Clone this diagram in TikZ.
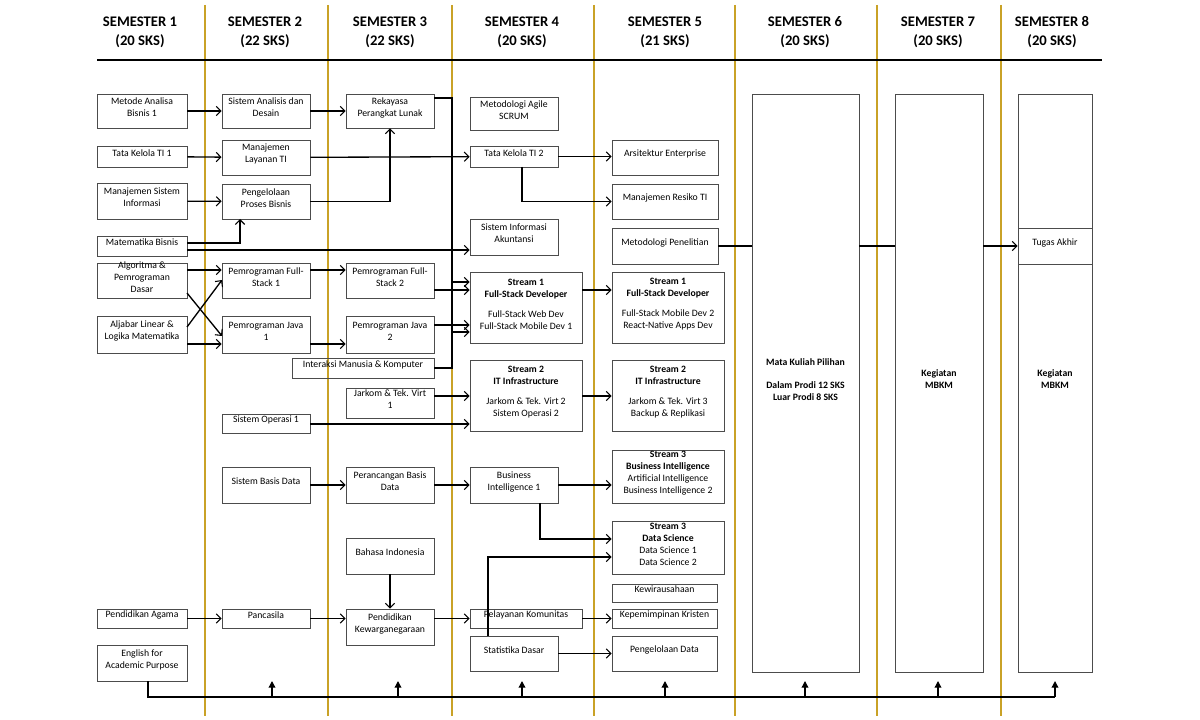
\documentclass[tikz,border=0pt]{standalone}
\usepackage{fontspec}
\setmainfont{Carlito}
\usetikzlibrary{fit,arrows.meta}
\definecolor{gold}{HTML}{C9A227}
\tikzset{
 box/.style={draw=black!70, line width=0.6pt, inner sep=0pt, align=center, font=\fontsize{7.3}{9}\selectfont},
 conn/.style={line width=1pt, -{Straight Barb[length=3.5pt,width=7pt,line width=0.8pt]}},
 plain/.style={line width=1pt},
 stub/.style={line width=1pt, -{Triangle[length=5pt,width=5pt]}},
 hdr/.style={font=\fontsize{11}{14}\selectfont\bfseries, align=center},
}
\newcommand{\bx}[6]{\node[box, fit={(#2,#3) (#4,#5)}] (#1) {#6};}
\begin{document}
\begin{tikzpicture}[x=0.75pt,y=-0.75pt]
\useasboundingbox (0,0) rectangle (1200,720);
% gold lines
\foreach \x in {205,328,452,594,735,877,1001} \draw[gold, line width=1.5pt] (\x,5) -- (\x,716);
\draw[line width=2.2pt] (97,60) -- (1102,60);
% headers
\foreach \x/\n/\s in {140/1/20,265/2/22,390/3/22,522/4/20,665/5/21,805/6/20,938/7/20,1052/8/20}
  \node[hdr] (h\n) at (\x,32) {SEMESTER \n\\(\s{} SKS)};
% Sem1
\bx{mab}{97}{94}{187}{128}{Metode Analisa\\Bisnis 1}
\bx{tk1}{97}{146}{187}{167}{Tata Kelola TI 1}
\bx{msi}{97}{183}{187}{219}{Manajemen Sistem\\Informasi}
\bx{matb}{97}{236}{187}{256}{Matematika Bisnis}
\bx{algo}{97}{263}{187}{298}{Algoritma \&\\Pemrograman\\Dasar}
\bx{alj}{97}{316}{187}{353}{Aljabar Linear \&\\Logika Matematika}
\bx{agama}{97}{609}{187}{628}{Pendidikan Agama}
\bx{eap}{97}{645}{187}{681}{English for\\Academic Purpose}
% Sem2
\bx{sad}{222}{94}{310}{128}{Sistem Analisis dan\\Desain}
\bx{mlti}{222}{140}{310}{175}{Manajemen\\Layanan TI}
\bx{ppb}{222}{184}{310}{219}{Pengelolaan\\Proses Bisnis}
\bx{pfs1}{222}{263}{310}{298}{Pemrograman Full-\\Stack 1}
\bx{pj1}{222}{316}{310}{353}{Pemrograman Java\\1}
\bx{so1}{222}{414}{310}{433}{Sistem Operasi 1}
\bx{sbd}{222}{467}{310}{503}{Sistem Basis Data}
\bx{panc}{222}{609}{310}{628}{Pancasila}
% Sem3
\bx{rpl}{346}{94}{434}{128}{Rekayasa\\Perangkat Lunak}
\bx{pfs2}{346}{263}{434}{298}{Pemrograman Full-\\Stack 2}
\bx{pj2}{346}{316}{434}{353}{Pemrograman Java\\2}
\bx{imk}{292}{358}{434}{378}{Interaksi Manusia \& Komputer}
\bx{jk1}{346}{388}{434}{418}{Jarkom \& Tek. Virt\\1}
\bx{pbd}{346}{467}{434}{503}{Perancangan Basis\\Data}
\bx{bind}{346}{538}{434}{574}{Bahasa Indonesia}
\bx{pkw}{346}{609}{434}{645}{Pendidikan\\Kewarganegaraan}
% Sem4
\bx{agile}{470}{97}{558}{130}{Metodologi Agile\\SCRUM}
\bx{tk2}{470}{146}{558}{167}{Tata Kelola TI 2}
\bx{sia}{470}{219}{558}{255}{Sistem Informasi\\Akuntansi}
\bx{sa1}{470}{272}{582}{343}{\textbf{Stream 1}\\\textbf{Full-Stack Developer}\\[6pt]Full-Stack Web Dev\\Full-Stack Mobile Dev 1}
\bx{sa2}{470}{360}{582}{431}{\textbf{Stream 2}\\\textbf{IT Infrastructure}\\[6pt]Jarkom \& Tek. Virt 2\\Sistem Operasi 2}
\bx{bi1}{470}{467}{558}{503}{Business\\Intelligence 1}
\bx{pk}{470}{609}{582}{628}{Pelayanan Komunitas}
\bx{sd}{470}{636}{558}{671}{Statistika Dasar}
% Sem5
\bx{ae}{612}{140}{718}{175}{Arsitektur Enterprise}
\bx{mr}{612}{184}{718}{219}{Manajemen Resiko TI}
\bx{mp}{612}{228}{718}{264}{Metodologi Penelitian}
\bx{sb1}{612}{272}{724}{343}{\textbf{Stream 1}\\\textbf{Full-Stack Developer}\\[6pt]Full-Stack Mobile Dev 2\\React-Native Apps Dev}
\bx{sb2}{612}{360}{724}{431}{\textbf{Stream 2}\\\textbf{IT Infrastructure}\\[6pt]Jarkom \& Tek. Virt 3\\Backup \& Replikasi}
\bx{s3a}{612}{450}{724}{503}{\textbf{Stream 3}\\\textbf{Business Intelligence}\\Artificial Intelligence\\Business Intelligence 2}
\bx{s3b}{612}{521}{724}{574}{\textbf{Stream 3}\\\textbf{Data Science}\\Data Science 1\\Data Science 2}
\bx{kew}{612}{584}{717}{602}{Kewirausahaan}
\bx{kk}{612}{609}{717}{628}{Kepemimpinan Kristen}
\bx{pdat}{612}{636}{717}{671}{Pengelolaan Data}
% Sem6-8
\bx{s6}{752}{94}{859}{672}{\textbf{Mata Kuliah Pilihan}\\[8pt]\textbf{Dalam Prodi 12 SKS}\\\textbf{Luar Prodi 8 SKS}}
\bx{s7}{895}{94}{983}{672}{\textbf{Kegiatan}\\\textbf{MBKM}}
\bx{s8}{1018}{94}{1092}{672}{\textbf{Kegiatan}\\\textbf{MBKM}}
\bx{ta}{1018}{228}{1092}{264}{Tugas Akhir}
% connectors
\draw[conn] (mab) -- (sad);
\draw[conn] (sad) -- (rpl);
\draw[conn] (tk1) -- (mlti);
\draw[conn] (msi) -- (ppb);
\draw[conn] (matb.east |- 0,243) -| (240,219);
\draw[conn] (matb.east |- 0,250) -- (sia.west |- 0,250);
\draw[conn] (mlti) -- (tk2);
\draw[conn] (ppb.east) -| (rpl.south);
\draw[plain] (rpl.east |- 0,98) -| (452,368) -- (imk.east |- 0,368);
\draw[conn] (452,282) -- (sa1.west |- 0,282);
\draw[conn] (452,332) -- (sa1.west |- 0,332);
\draw[conn] (pfs2.east |- 0,290) -- (sa1.west |- 0,290);
\draw[conn] (pj2.east |- 0,325) -- (sa1.west |- 0,325);
\draw[conn] (algo.east |- 0,270) -- (pfs1.west |- 0,270);
\draw[conn] (187,293) -- (222,336);
\draw[conn] (187,327) -- (222,280);
\draw[conn] (alj.east |- 0,344) -- (pj1.west |- 0,344);
\draw[conn] (pfs1.east |- 0,270) -- (pfs2.west |- 0,270);
\draw[conn] (pj1.east |- 0,344) -- (pj2.west |- 0,344);
\draw[conn] (jk1.east |- 0,396) -- (sa2.west |- 0,396);
\draw[conn] (so1.east |- 0,424) -- (sa2.west |- 0,424);
\draw[conn] (sa1.east |- 0,290) -- (sb1.west |- 0,290);
\draw[conn] (sa2.east |- 0,396) -- (sb2.west |- 0,396);
\draw[conn] (tk2) -- (ae.west |- tk2);
\draw[conn] (522,167) |- (mr.west);
\draw[plain] (mp.east) -- (s6.west |- mp.east);
\draw[plain] (s6.east |- mp.east) -- (s7.west |- mp.east);
\draw[conn] (s7.east |- ta.west) -- (ta.west);
\draw[conn] (sbd) -- (pbd);
\draw[conn] (pbd) -- (bi1);
\draw[conn] (bi1) -- (s3a.west |- bi1);
\draw[conn] (540,503) |- (s3b.west |- 0,539);
\draw[conn] (bind) -- (pkw);
\draw[conn] (agama) -- (panc);
\draw[conn] (panc) -- (pkw.west |- panc);
\draw[conn] (pkw.east |- panc) -- (pk);
\draw[conn] (pk) -- (kk);
\draw[conn] (488,636) -- (488,557) -- (s3b.west |- 0,557);
\draw[conn] (sd) -- (pdat.west |- sd);
\draw[plain] (eap.south -| 148,0) -- (148,697) -- (1055,697);
\foreach \x in {272,398,522,665,805,938,1055} \draw[stub] (\x,697) -- (\x,681);
\end{tikzpicture}
\end{document}
